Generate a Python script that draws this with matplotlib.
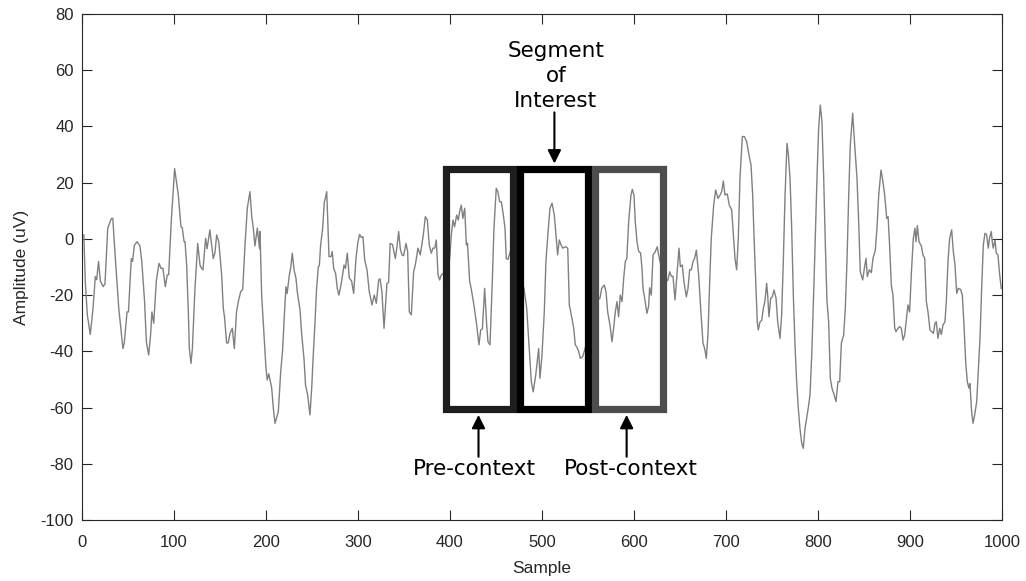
import matplotlib
matplotlib.use('Agg')
import matplotlib.pyplot as plt
from matplotlib.patches import Rectangle

plt.rcParams['axes.unicode_minus'] = False

# signal (sample index, amplitude in uV)
sample = [2, 3.6, 5.8, 9, 12, 14.5, 16, 18, 20, 23, 25, 28, 32, 33.5, 36, 40, 43, 44.5, 46, 49,
          50.5, 53.6, 55, 57, 60, 63, 65, 68, 70, 72.5, 74.6, 76, 78, 80.8, 83.7, 86, 88, 90.6, 92.7, 94.2,
          97, 100.7, 104.7, 107.6, 109, 111, 112, 113.8, 115.6, 116.7, 118.5, 120, 122.8, 125.8, 128.3, 130, 131.5, 134.4, 136, 139,
          142.7, 144.5, 146.4, 148.7, 151.8, 153.6, 155, 157.2, 159, 160.9, 163.4, 165.6, 168, 169.9, 172.5, 174.7, 177.2, 179.7, 182.6, 184.5,
          186.2, 188, 190.6, 193, 193.5, 195.3, 197.8, 200, 201.4, 203, 206.2, 208, 209.8, 213.4, 216, 218, 220, 221.7, 223, 225.4,
          227, 228.6, 230.5, 232.6, 234, 237, 238.8, 241.3, 243, 245.3, 247.8, 249.7, 251.4, 253.3, 255, 256.9, 258, 259.4, 261.6, 263.4,
          264.5, 266, 267, 268.5, 270.7, 272, 273.6, 275.7, 277.5, 279.3, 281.2, 283, 284.8, 286.3, 288.4, 290.6, 293.1, 295.3, 297.8, 300,
          301.8, 303.6, 305.4, 307.3, 309.8, 312.3, 315.2, 317.7, 319.9, 322.5, 324, 326, 328.3, 329.7, 331.5, 333.3, 335, 337.5, 340.6, 342.3,
          344.2, 346, 347.8, 349.6, 352.2, 354, 355.8, 358, 360.5, 362.3, 365.2, 367.7, 369.6, 371, 373.2, 375.4, 377.5, 379.7, 381.5, 383.4,
          385.1, 387, 388.8, 390.5, 394, 398, 400, 401.4, 403.3, 405, 407.3, 409, 410.5, 412.3, 414, 416, 417.8, 419, 421.4, 423,
          426, 429, 431.5, 433.4, 435.2, 437.7, 439.9, 441.3, 443.5, 446, 447.8, 450.3, 452, 454, 455.8, 458, 459.8, 461.2, 463, 467,
          472, 476, 480.4, 483.4, 485.9, 488.4, 490.5, 493.2, 495.3, 496.4, 497.8, 500, 502.5, 504.3, 506.9, 508.7, 510.9, 513.4, 515.2, 517,
          518.8, 520.6, 522.5, 525.3, 528, 529.7, 532.6, 534.5, 536.2, 538, 539.9, 541.7, 544.2, 546, 550, 555, 559, 563, 564.9, 567.7,
          569.6, 571.4, 573.9, 576.1, 577.8, 579.7, 581.5, 583.3, 585.1, 587, 588.8, 590.6, 592.2, 594.2, 596.7, 598.2, 600, 601.4, 603.3, 605.1,
          607.2, 608.7, 609.8, 611.6, 614.1, 615.9, 617, 618.8, 620.7, 623.2, 625.3, 626.8, 631, 635.1, 636.9, 638.8, 640.6, 642.4, 644.6, 646.7,
          648.9, 650.4, 652.5, 654.3, 656.9, 658.7, 660.5, 662.3, 664.1, 665.9, 667.8, 670.3, 672.5, 675, 676.8, 678.6, 680.4, 682.3, 684, 686.6,
          688.8, 691.3, 693.5, 695.3, 697.1, 698.9, 701.4, 703.6, 706.2, 708, 709.8, 711.6, 713.4, 715.2, 717.8, 720, 722.5, 725, 727.2, 729,
          730.8, 732.6, 734, 735.1, 737, 738.8, 740.6, 742.4, 744.2, 745.3, 746.7, 748.6, 750.4, 752.2, 754.4, 756.2, 758.7, 760.5, 762.3, 764.1,
          766.3, 767.8, 769.6, 771.4, 773.2, 775, 776.8, 778.6, 780.4, 782.3, 784, 785.9, 787.7, 789.5, 791.3, 793.2, 795.7, 798.9, 800.7, 802.5,
          804.3, 806.2, 808, 809.8, 811.6, 813.4, 815.2, 817, 819.6, 821.7, 823.6, 825.4, 827.9, 829.7, 831.5, 833.4, 835.1, 837.7, 839.9, 842.4,
          844.2, 846, 848.6, 850.4, 852.2, 853.6, 855.8, 858, 859.8, 862.3, 864.1, 866, 868.5, 870.3, 872.5, 874.7, 876.2, 878, 879.7, 881.5,
          883.4, 884.8, 887, 888.8, 890.6, 892.4, 894.2, 896.7, 897.8, 899.6, 901.4, 903.6, 905.4, 906.5, 908, 909.8, 912.3, 914.1, 916, 917.8,
          919.6, 921.7, 923.5, 925.4, 927.2, 928.6, 930.4, 932.3, 934, 935.9, 938, 939.5, 941.3, 943.1, 945.3, 947.1, 948.9, 950.8, 952.5, 955,
          956.9, 958.7, 960.5, 962.3, 964.1, 965.2, 967, 968.5, 970.3, 972.5, 974.2, 976.1, 977.9, 979.7, 981.5, 983.3, 985.1, 986.6, 988.4, 989.4,
          990.5, 992.4, 993.8, 995.6, 997.5, 999.2]
amp = [1.4, -15.2, -27, -34, -24.7, -13.4, -14.5, -8, -15, -17, -16, 3.8, 7.3, 7.3, -5.7, -24.7, -34, -39, -37, -26,
       -26, -7, -8, -2.2, -1, -2.5, -8, -22, -36.6, -41.3, -34, -26, -30, -15, -8.7, -10.5, -10.5, -17, -12.8, -12.8,
       6, 25, 15.6, 4.3, 4, -1, -1, -9.3, -26, -39, -44.3, -39, -17.6, -1.6, -9.3, -10.5, -11, 0.2, -3.5, 3.2,
       -7, -5, 1.4, -1, -12.8, -24.7, -28, -37, -37, -33.6, -31.8, -39, -26, -22.3, -18.8, -18, -2.2, 10.9, 16.8, 8,
       3.8, -2.5, 3.8, -3.5, 2.6, -20, -34, -46, -50.2, -48, -53, -60.3, -65.6, -61.5, -47.2, -40, -27, -17, -19.4, -12.8,
       -10, -5.1, -11, -14, -18.8, -25.3, -34, -42.5, -52, -55.5, -62.6, -53, -41.3, -29.5, -17.6, -9.9, -9.5, -2.2, 3.8, 13.2,
       14.3, 16.8, 8, -6.3, -6.3, -4.5, -10.5, -12.3, -17.6, -20, -17, -13.4, -9.3, -10.5, -5.1, -14, -15, -19.4, -7, -1,
       1.6, 0.5, 0.8, -7.5, -11, -18.8, -23.5, -20, -22.9, -14.6, -14.2, -18.8, -31.8, -24.7, -15.8, -15.5, -1.6, -2, -7, -3,
       2.6, -3.5, -5.7, -6, -1.6, -4.5, -26, -27, -11.7, -9.3, -3.3, -5.7, -1.6, 1.4, 7.9, 6.7, -2.2, -5.1, -3.3, -3.3,
       -0.4, -12.8, -14.6, -12.8, -12, -12, -5.7, 1.4, 6.7, 4.3, 8.5, 6.7, 9.7, 12, 7.3, 10.9, -2.2, -1.5, -15.2, -17.6,
       -23.5, -30.6, -37.7, -32.4, -32, -17.6, -30.6, -36.6, -37.7, -15.2, 3.8, 18, 16.8, 13.2, 13.2, 8.5, 3.8, -7, -7.3, -3,
       -8, -12, -17.6, -24.7, -37.7, -50.8, -54.4, -48.4, -42, -39, -49.6, -41.3, -26, -8, 3.8, 10.9, 12.7, 8.5, 1.4, -5.7,
       -0.4, -2, -3.3, -2.8, -3.3, -23.5, -28.3, -31.8, -37.7, -38.5, -40.1, -42.5, -41.9, -40, -35, -28, -22, -21.1, -17.6, -16.4,
       -18.8, -26, -30.6, -36.6, -32, -26, -22.3, -27.7, -20, -22.3, -14, -8, -7, 6, 15.6, 17.6, 15.6, 6, -1, -4.5,
       -5, -10.5, -17.6, -21.1, -26.5, -24, -17.4, -20, -5.7, -4.5, -2.8, -5.7, -12, -15.2, -14.6, -11.7, -13.3, -13.3, -21.7, -12.8,
       -3.3, -9.9, -9.3, -15.2, -20.6, -17.6, -11, -11, -8.1, -6.9, -4, -12.8, -24.7, -37.1, -39, -42.5, -34.2, -15.2, 0.2, 12,
       17.4, 14.4, 15.6, 16.8, 20.6, 15.6, 16, 12, 10.3, 1.4, -7, -11, 0.2, 21.6, 36.4, 36.4, 34.6, 29.8, 26.3, 15.6,
       -2.2, -17.6, -29.5, -32.4, -29.5, -29, -24.7, -22, -15.8, -20, -27.7, -21.1, -20.6, -18.2, -21.1, -29.5, -35.4, -27, -8.1, 14.4,
       34, 30, 21.6, 3.8, -20, -37.7, -50.8, -60.3, -67.4, -72.7, -74.5, -67.4, -63.8, -60, -55.5, -41.3, -15.2, 21.6, 39.3, 47.6,
       41.7, 21.6, -2.2, -22.3, -29.5, -49.6, -53.1, -54.9, -57.9, -50.8, -50.8, -37.1, -34.2, -24.7, -8.1, 15.6, 33.4, 44.7, 33.4, 21.6,
       6.1, -11.7, -14.6, -10.5, -6.9, -13.4, -11, -12, -6.9, -4, 3.8, 15.6, 24.5, 21, 15.6, 7.3, 7.9, -3.3, -16.4, -20,
       -31.8, -33, -31.8, -31.2, -31.8, -36, -34.2, -27, -23.5, -26, -12.8, 0.2, 3.8, -1, 4.7, -1, -2.5, -5.7, -6.9, -22.3,
       -26, -32.4, -33, -33.6, -30, -29.5, -35.4, -31.8, -34, -30.6, -29.5, -22.3, -8.1, 0.2, 3.2, -4.5, -9.3, -19.4, -17.6, -18,
       -20, -30.6, -43.7, -50.8, -53.1, -51.5, -61.5, -65.6, -62.6, -57.9, -47.2, -35.4, -17.6, -2.2, 2, 1.5, -3.3, 0.5, 2.6, -1,
       -3.3, -0.4, -5.1, -5.7, -12.8, -17.6]

# window boxes: (left, right) in samples, plus shared bottom/top
box_names = ['pre', 'segment', 'post']
box_left = [396, 476.4, 557.6]
box_right = [468, 549.6, 631.5]
box_bottom = -60.4
box_top = 25
box_colors = ['#1e1e1e', '#000000', '#4d4d4d']

fig = plt.figure(figsize=(10.26, 5.81), dpi=100)
ax = fig.add_axes([0.0799, 0.105, 0.8967, 0.8709])

ax.plot(sample, amp, color='#808080', lw=1.0)

for x0, x1, c in zip(box_left, box_right, box_colors):
    ax.add_patch(Rectangle((x0, box_bottom), x1 - x0, box_top - box_bottom,
                           fill=False, ec=c, lw=5.2, joinstyle='miter', zorder=3))

ax.set_xlim(0, 1000)
ax.set_ylim(-100, 80)
ax.set_xticks(range(0, 1001, 100))
ax.set_yticks(range(-100, 81, 20))
ax.tick_params(direction='in', top=True, right=True, length=7, width=0.8,
               labelsize=12, colors='#262626')
ax.tick_params(axis='x', pad=11)
ax.tick_params(axis='y', pad=6)
for lab in ax.get_xticklabels() + ax.get_yticklabels():
    lab.set_family('Liberation Sans')
for s in ax.spines.values():
    s.set_color('#262626')
    s.set_linewidth(0.8)

ax.set_xlabel('Sample', family='Liberation Sans', fontsize=12.5, color='#262626', labelpad=8)
ax.set_ylabel('Amplitude (uV)', family='Liberation Sans', fontsize=12.5, color='#262626', labelpad=8)

# annotations
arr = dict(arrowstyle='-|>', color='black', lw=1.5, mutation_scale=20, shrinkA=0, shrinkB=0)
ax.text(515, 58, 'Segment\nof\nInterest', ha='center', va='center', fontsize=15.5,
        family='DejaVu Sans', linespacing=1.3)
ax.annotate('', xy=(513.5, 26.8), xytext=(513.5, 45), arrowprops=arr)

ax.text(426, -82, 'Pre-context', ha='center', va='center', fontsize=15.5, family='DejaVu Sans')
ax.annotate('', xy=(431, -62.6), xytext=(431, -77.5), arrowprops=arr)

ax.text(597, -82, 'Post-context', ha='center', va='center', fontsize=15.5, family='DejaVu Sans')
ax.annotate('', xy=(592, -62.6), xytext=(592, -77.5), arrowprops=arr)

fig.savefig('out.png', dpi=100)
